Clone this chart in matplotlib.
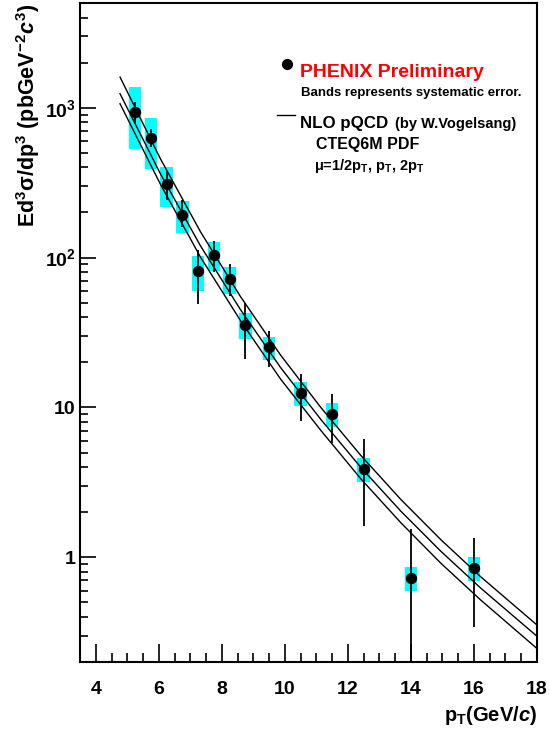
import numpy as np
import matplotlib
matplotlib.use("Agg")
import matplotlib.pyplot as plt
from matplotlib.ticker import FixedLocator, FixedFormatter, NullFormatter, LogLocator

# ── data ──
pt = np.array([5.25, 5.75, 6.25, 6.75, 7.25, 7.75, 8.25, 8.75, 9.5, 10.5, 11.5, 12.5, 14.0, 16.0])
xsec = np.array([940, 631, 311, 193, 81, 104, 72, 35.6, 25.4, 12.4, 9.0, 3.86, 0.73, 0.845])
stat_hi = np.array([1096, 721, 380, 241, 113, 129, 90, 49.9, 32.3, 16.8, 12.2, 6.12, 1.54, 1.35])
stat_lo = np.array([784, 543, 244, 160, 49, 80, 55, 21.1, 18.7, 8.15, 5.81, 1.62, 0.15, 0.345])
sys_hi = np.array([1366, 858, 400, 240, 102, 126.5, 86, 43, 29.7, 14.7, 10.7, 4.57, 0.858, 1.0])
sys_lo = np.array([533, 392, 219, 145, 60, 81, 57.5, 28.5, 20.6, 10.2, 7.4, 3.16, 0.594, 0.69])

# NLO pQCD curves (mu = pT/2, pT, 2pT)
nlo_pt = np.array([4.77, 6.05, 7.32, 8.59, 9.86, 11.14, 12.41, 13.68, 14.95, 16.22, 18.0])
nlo_half = np.array([1602, 457, 149, 55, 22.4, 10.0, 4.78, 2.43, 1.31, 0.739, 0.353])
nlo_one = np.array([1240, 363, 120, 45, 18.5, 8.32, 3.98, 2.03, 1.096, 0.621, 0.297])
nlo_two = np.array([1063, 309, 101, 38, 15.5, 7.03, 3.34, 1.70, 0.912, 0.517, 0.246])

y_major = [1, 10, 100, 1000]
y_major_labels = ["1", "10", r"$10^{2}$", r"$10^{3}$"]
x_major = [4, 6, 8, 10, 12, 14, 16, 18]

W, H = 550, 732
plt.rcParams["font.family"] = ["Liberation Sans", "DejaVu Sans"]
plt.rcParams["font.weight"] = "bold"
plt.rcParams["mathtext.fontset"] = "custom"
plt.rcParams["mathtext.rm"] = "Liberation Sans:bold"
plt.rcParams["mathtext.bf"] = "Liberation Sans:bold"
plt.rcParams["mathtext.it"] = "Liberation Sans:bold:italic"
plt.rcParams["mathtext.default"] = "rm"


def fx(px):
    return px / W


def fy(py):
    return 1 - py / H


fig = plt.figure(figsize=(W / 100, H / 100), dpi=100)
ax = fig.add_axes([fx(80), fy(662), fx(537) - fx(80), fy(3) - fy(662)])
ax.set_yscale("log")
ax.set_xlim(3.5, 18)
ax.set_ylim(0.2, 5000)

# systematic bands
ax.bar(pt, sys_hi - sys_lo, bottom=sys_lo, width=0.4, color="#00FFFF", linewidth=0, zorder=1)

# theory curves
for curve in (nlo_half, nlo_one, nlo_two):
    ax.plot(nlo_pt, curve, color="black", lw=1.0, zorder=2)

# statistical errors + points
ax.vlines(pt, stat_lo, stat_hi, color="black", lw=1.3, zorder=3)
ax.plot(pt, xsec, "o", color="black", ms=7.2, zorder=4)

# axes styling (ROOT-like)
for sp in ax.spines.values():
    sp.set_linewidth(1.5)
ax.xaxis.set_major_locator(FixedLocator(x_major))
ax.xaxis.set_minor_locator(FixedLocator(np.arange(3.5, 18.01, 0.5)))
ax.yaxis.set_major_locator(FixedLocator(y_major))
ax.yaxis.set_major_formatter(FixedFormatter(y_major_labels))
ax.yaxis.set_minor_locator(LogLocator(base=10, subs=np.arange(2, 10)))
ax.yaxis.set_minor_formatter(NullFormatter())
ax.tick_params(axis="x", which="major", direction="in", length=13, width=1.2,
               labelsize=14, pad=13.5)
ax.tick_params(axis="x", which="minor", direction="in", length=6.5, width=1.2)
ax.tick_params(axis="y", which="major", direction="in", length=11.5, width=1.2,
               labelsize=14, pad=3)
ax.tick_params(axis="y", which="minor", direction="in", length=5.5, width=1.2)
ax.tick_params(top=False, right=False, which="both")

# axis titles
fig.text(fx(28), fy(4), r"Ed$^{3}\sigma$/dp$^{3}$ (pbGeV$^{-2}\mathit{c}^{3}$)",
         rotation=90, ha="center", va="top", fontsize=15.5)
fig.text(fx(537), fy(721), r"p$_\mathrm{T}$(GeV/$\mathit{c}$)",
         ha="right", va="baseline", fontsize=14.5)

# legend
fig.lines.append(plt.Line2D([fx(287)], [fy(64)], marker="o", color="black", ms=7,
                            transform=fig.transFigure))
fig.lines.append(plt.Line2D([fx(277), fx(295)], [fy(115), fy(115)], color="black",
                            lw=1.0, transform=fig.transFigure))
fig.text(fx(300), fy(77), "PHENIX Preliminary", color="red", fontsize=14)
fig.text(fx(301), fy(96), "Bands represents systematic error.", fontsize=9.5)
fig.text(fx(300), fy(128), "NLO pQCD", fontsize=12.2)
fig.text(fx(395), fy(128), "(by W.Vogelsang)", fontsize=10.5)
fig.text(fx(316), fy(149), "CTEQ6M PDF", fontsize=11.5)
fig.text(fx(314), fy(170), r"$\mu$=1/2p$_\mathrm{T}$, p$_\mathrm{T}$, 2p$_\mathrm{T}$",
         fontsize=10.5)

fig.savefig("out.png", dpi=100)
